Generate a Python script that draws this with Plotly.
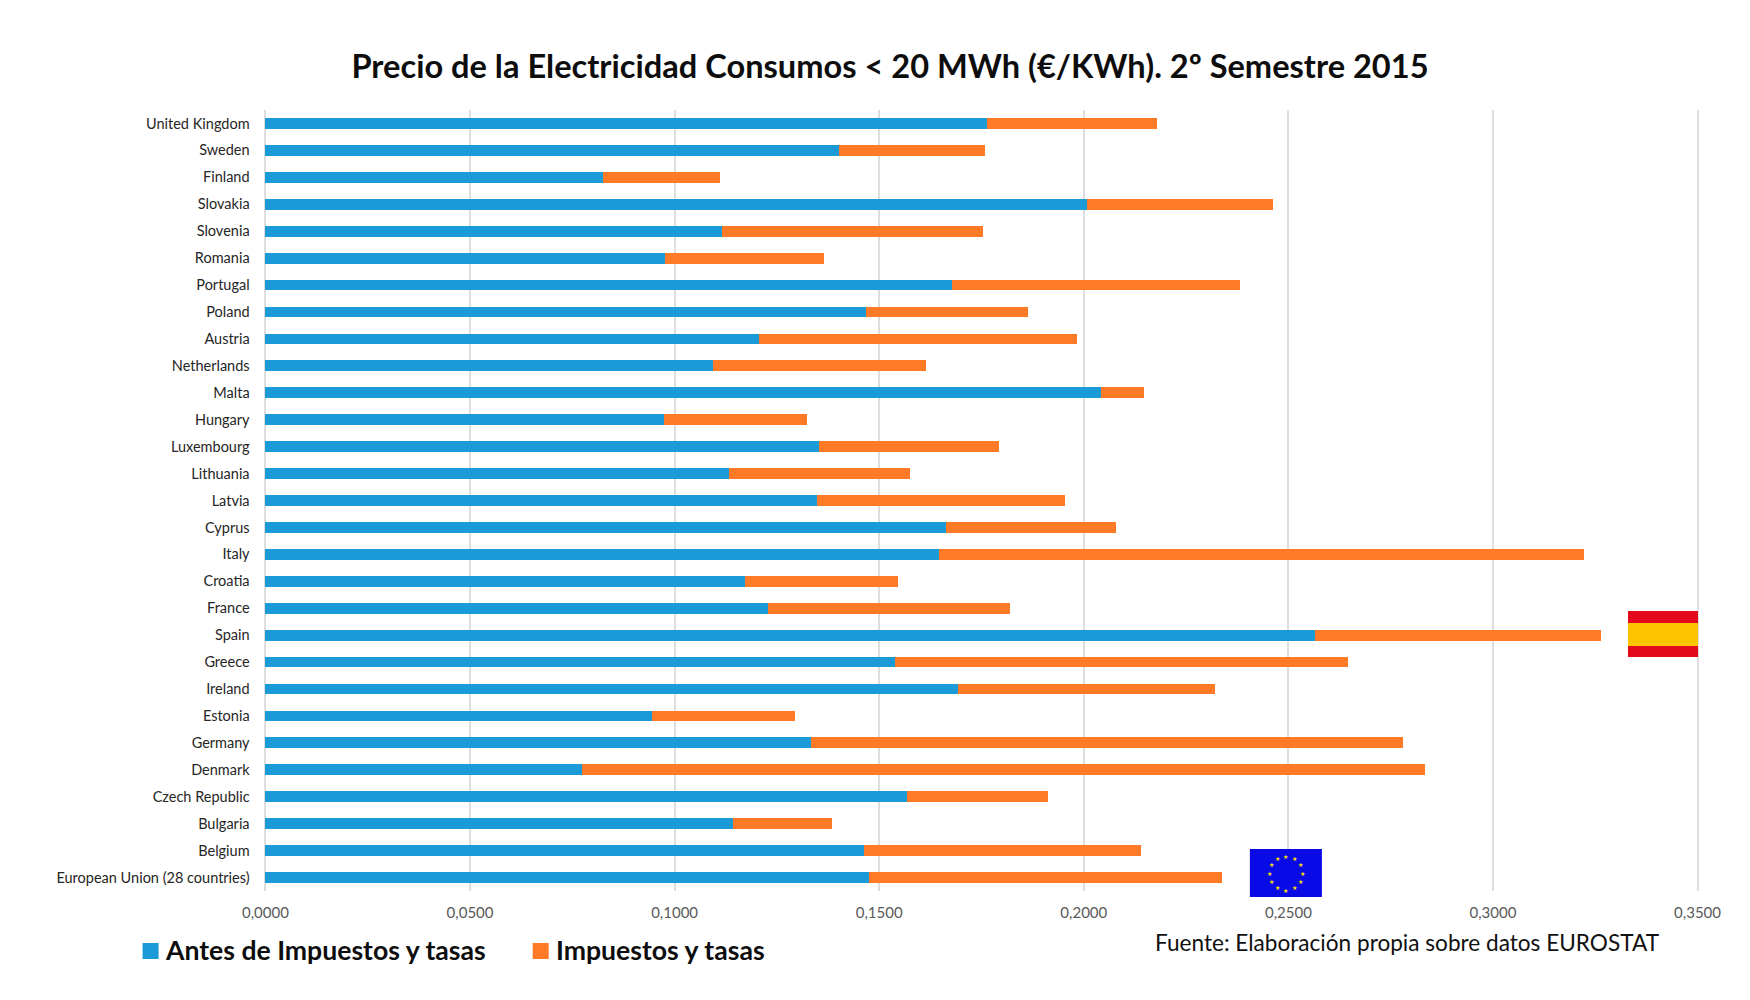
import math
import plotly.graph_objects as go

countries = ["United Kingdom","Sweden","Finland","Slovakia","Slovenia","Romania","Portugal","Poland","Austria","Netherlands","Malta","Hungary","Luxembourg","Lithuania","Latvia","Cyprus","Italy","Croatia","France","Spain","Greece","Ireland","Estonia","Germany","Denmark","Czech Republic","Bulgaria","Belgium","European Union (28 countries)"]
before_tax = [.1764,.1402,.0826,.2007,.1115,.0976,.1677,.1467,.1205,.1094,.2043,.0974,.1353,.1134,.1347,.1663,.1647,.1173,.1227,.2566,.1538,.1693,.0944,.1334,.0774,.1568,.1143,.1464,.1475]
total_price = [.2179,.1759,.1110,.2462,.1753,.1366,.2381,.1863,.1983,.1614,.2146,.1323,.1792,.1576,.1955,.2078,.3223,.1546,.1819,.3264,.2645,.2321,.1295,.2779,.2833,.1912,.1385,.2141,.2337]
taxes = [round(t - b, 4) for t, b in zip(total_price, before_tax)]
x_ticks = [0, .05, .10, .15, .20, .25, .30, .35]
series_names = ["Antes de Impuestos y tasas", "Impuestos y tasas"]
series_colors = ["#1a9bd7", "#fe7a26"]

W, H = 1750, 1000
L, R, T, B = 263.4, 50, 110, 109
FONT = "Lato"
def px(x): return (x - L) / (W - L - R)
def py(y): return 1 - (y - T) / (H - T - B)

fig = go.Figure()
fig.add_bar(y=countries, x=before_tax, orientation="h", name=series_names[0], marker_color=series_colors[0], marker_line_width=0)
fig.add_bar(y=countries, x=taxes, orientation="h", name=series_names[1], marker_color=series_colors[1], marker_line_width=0)

shapes = []
def rect(x0, y0, x1, y1, color):
    shapes.append(dict(type="rect", xref="paper", yref="paper", x0=px(x0), x1=px(x1), y0=py(y0), y1=py(y1), fillcolor=color, line_width=0, layer="above"))
rect(1628, 611, 1698, 623, "#e30a1c")
rect(1628, 623, 1698, 646, "#ffc400")
rect(1628, 646, 1698, 657, "#e30a1c")
rect(1250, 849, 1322, 897, "#0a0ae6")
rect(143, 943, 159, 959, series_colors[0])
rect(533, 943, 549, 959, series_colors[1])

annotations = [
    dict(text="Fuente: Elaboración propia sobre datos EUROSTAT", xref="paper", yref="paper", x=px(1662), y=py(942), xanchor="right", yanchor="middle", showarrow=False, font=dict(family=FONT, size=22.6, color="#111111")),
    dict(text="<b>" + series_names[0] + "</b>", xref="paper", yref="paper", x=px(163), y=py(950), xanchor="left", yanchor="middle", showarrow=False, font=dict(family=FONT, size=26.6, color="#0d0d0d")),
    dict(text="<b>" + series_names[1] + "</b>", xref="paper", yref="paper", x=px(554), y=py(950), xanchor="left", yanchor="middle", showarrow=False, font=dict(family=FONT, size=26.6, color="#0d0d0d")),
]
for i in range(12):
    a = math.radians(i * 30)
    annotations.append(dict(text="★", xref="paper", yref="paper", x=px(1286 + 16.5 * math.cos(a)), y=py(873 + 17 * math.sin(a)), xanchor="center", yanchor="middle", showarrow=False, font=dict(family="DejaVu Sans", size=6, color="#ffe000")))

fig.update_layout(
    width=W, height=H, barmode="stack", bargap=0.6,
    separators=",.", showlegend=False,
    paper_bgcolor="white", plot_bgcolor="white",
    margin=dict(l=L, r=R, t=T, b=B, autoexpand=False),
    font=dict(family=FONT),
    title=dict(text="<b>Precio de la Electricidad Consumos < 20 MWh (€/KWh). 2º Semestre 2015</b>", x=890/W, xanchor="center", y=1-67/H, yanchor="middle", font=dict(family=FONT, size=32.6, color="#0d0d0d")),
    shapes=shapes, annotations=annotations,
)
fig.update_xaxes(range=[-0.0006, .3506], tickvals=x_ticks, tickformat=".4f", showgrid=True, gridcolor="#dedede", gridwidth=1.5, zeroline=False,
                 ticks="outside", ticklen=8, tickcolor="rgba(0,0,0,0)", tickfont=dict(family=FONT, size=15, color="#595959"), showline=False)
fig.update_yaxes(categoryorder="array", categoryarray=countries, autorange="reversed", showgrid=False, zeroline=False,
                 ticks="outside", ticklen=9.5, tickcolor="rgba(0,0,0,0)", tickfont=dict(family=FONT, size=14.5, color="#262626"), showline=False)

fig.write_html("out.html", config=dict(displayModeBar=False), post_script="document.body.style.margin='0';")
